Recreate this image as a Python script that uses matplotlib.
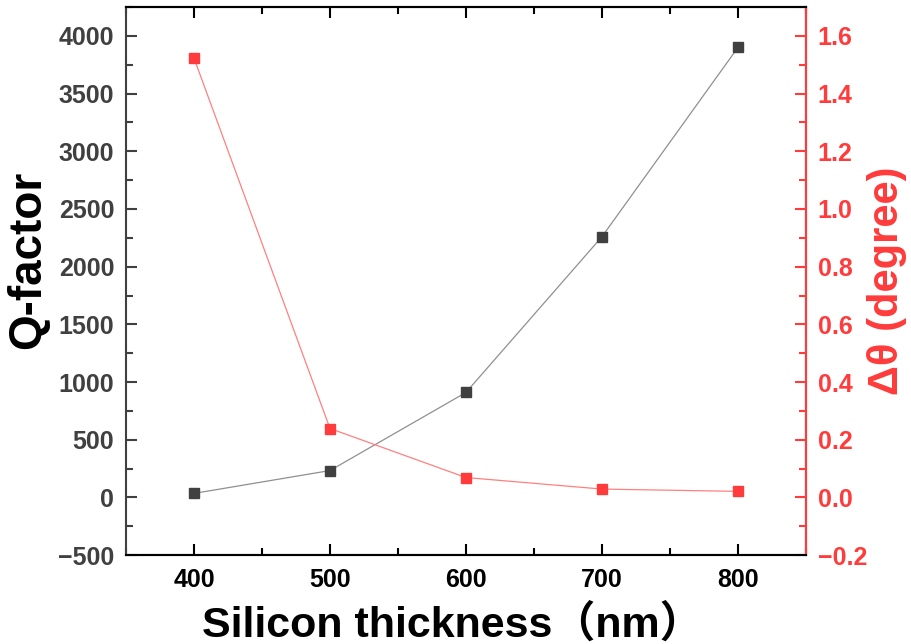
import numpy as np
import matplotlib.pyplot as plt
from matplotlib.ticker import MultipleLocator

thickness = [400, 500, 600, 700, 800]
q_factor = [35, 233, 910, 2260, 3900]
delta_theta = [1.523, 0.239, 0.069, 0.029, 0.021]

red = '#ff3b3b'
grey = '#404040'
plt.rcParams['font.family'] = ['Liberation Sans', 'Noto Sans CJK SC']
plt.rcParams['font.weight'] = 'bold'
plt.rcParams['axes.unicode_minus'] = True

fig = plt.figure(figsize=(9.11, 6.44), dpi=100)
ax = fig.add_axes([0.1383, 0.138, 0.7464, 0.851])
ax2 = ax.twinx()

ax.plot(thickness, q_factor, color='#909090', lw=0.9, marker='s', ms=7,
        mfc=grey, mec=grey, zorder=3)
ax2.plot(thickness, delta_theta, color='#ff8080', lw=0.9, marker='s', ms=7,
         mfc=red, mec=red, zorder=3)

ax.set_xlim(350, 850)
ax.set_ylim(-500, 4250)
ax2.set_ylim(-0.2, 1.7)
ax.xaxis.set_major_locator(MultipleLocator(100))
ax.xaxis.set_minor_locator(MultipleLocator(50))
ax.yaxis.set_major_locator(MultipleLocator(500))
ax.yaxis.set_minor_locator(MultipleLocator(250))
ax2.yaxis.set_major_locator(MultipleLocator(0.2))
ax2.yaxis.set_minor_locator(MultipleLocator(0.1))
ax.set_xticks([400, 500, 600, 700, 800])

ax.tick_params(axis='x', which='both', direction='in', top=True, colors='black', labelsize=18, pad=9)
ax.tick_params(axis='x', which='major', length=8, width=1.5)
ax.tick_params(axis='x', which='minor', length=5, width=1.5)
ax.tick_params(axis='y', which='both', direction='in', colors=grey, labelsize=18, width=1.5, pad=8.5)
ax.tick_params(axis='y', which='major', length=8)
ax.tick_params(axis='y', which='minor', length=5)
ax2.tick_params(axis='y', which='both', direction='in', colors=red, labelsize=18, width=1.5, pad=8.5)
ax2.tick_params(axis='y', which='major', length=8)
ax2.tick_params(axis='y', which='minor', length=5)

for a in (ax, ax2):
    for s in a.spines.values():
        s.set_linewidth(1.5)
ax.spines['left'].set_color(grey)
ax.spines['bottom'].set_color(grey)
ax.spines['top'].set_color('black')
ax2.spines['right'].set_color(red)
ax2.spines['left'].set_visible(False)

ax.set_xlabel('Silicon thickness（nm）', fontsize=31, fontweight='bold')
ax.xaxis.set_label_coords(0.48, -0.09)
ax.xaxis.label.set_va('top')
ax.set_ylabel('Q-factor', fontsize=33, fontweight='bold')
ax.yaxis.set_label_coords(-0.112, 0.538)
ax2.set_ylabel('Δθ (degree)', fontsize=30, fontweight='bold', color=red)
ax2.yaxis.set_label_coords(1.09, 0.5)

fig.savefig('out.png', dpi=100)
